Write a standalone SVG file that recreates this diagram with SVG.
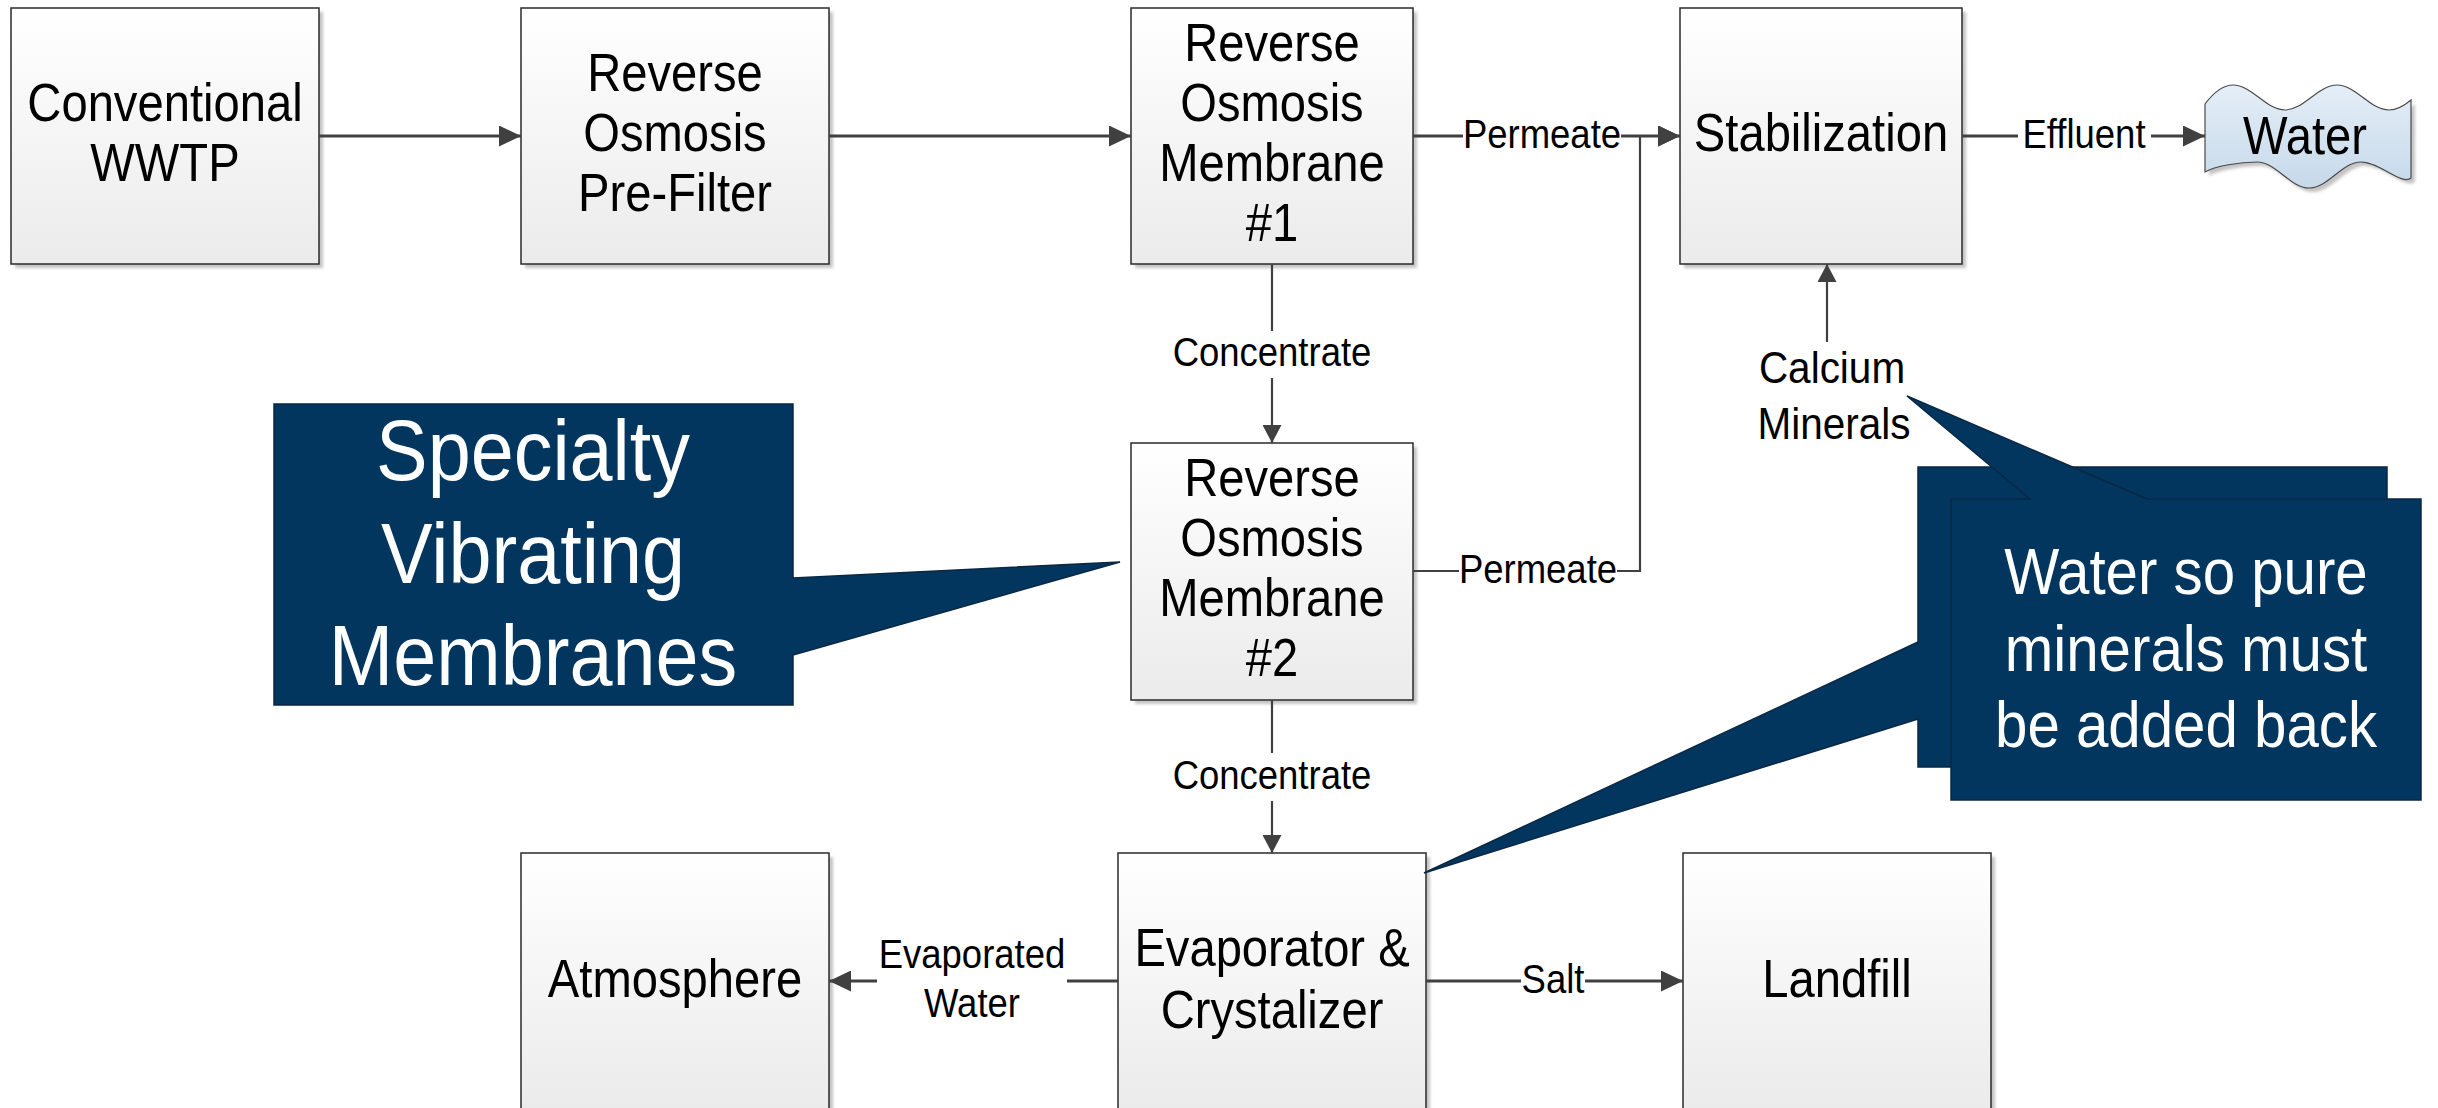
<svg xmlns="http://www.w3.org/2000/svg" width="2438" height="1108" viewBox="0 0 2438 1108">
  <style>
    text { font-family: "Liberation Sans", Arial, sans-serif; text-anchor: middle; transform-box: fill-box; transform-origin: center; }
    .nt { font-size: 53px; fill: #000; transform: scaleX(0.89); }
    .lt { font-size: 41px; fill: #000; transform: scaleX(0.89); }
    .lt.big { font-size: 45px; transform: scaleX(0.9); }
    .ct { font-size: 85px; fill: #fff; transform: scaleX(0.91); }
    .ct2 { font-size: 64px; fill: #fff; transform: scaleX(0.91); }
    .box { fill: url(#boxFill); stroke: #2b2b2b; stroke-width: 1.5; }
    .shadow { fill: #c4c4c4; filter: url(#soft); }
    .callout { fill: #03365f; stroke: #0a2744; stroke-width: 1.5; stroke-linejoin: miter; }
    .wire { fill: none; stroke: #404040; stroke-width: 3; }
    .wire.thin { stroke-width: 2.2; }
    .bg { fill: #fff; }
  </style>
  <defs>
    <linearGradient id="boxFill" x1="0" y1="0" x2="0" y2="1">
      <stop offset="0" stop-color="#ffffff"/>
      <stop offset="1" stop-color="#ebebeb"/>
    </linearGradient>
    <linearGradient id="waterFill" x1="0" y1="0" x2="0" y2="1">
      <stop offset="0" stop-color="#e4eef7"/>
      <stop offset="1" stop-color="#c6d9ea"/>
    </linearGradient>
    <filter id="soft" x="-5%" y="-5%" width="110%" height="110%">
      <feGaussianBlur stdDeviation="1.5"/>
    </filter>
    <marker id="ah" markerUnits="userSpaceOnUse" markerWidth="22" markerHeight="21" refX="22" refY="10.5" orient="auto">
      <path d="M0,0 L22,10.5 L0,21 z" fill="#404040"/>
    </marker>
    <marker id="ahs" markerUnits="userSpaceOnUse" markerWidth="18" markerHeight="19" refX="18" refY="9.5" orient="auto">
      <path d="M0,0 L18,9.5 L0,19 z" fill="#404040"/>
    </marker>
    <path id="waveShape" d="M2205,104 C2214,92 2223,85 2233,85 C2252,85 2266,110 2285,110 C2304,110 2318,85 2337,85 C2356,85 2370,110 2389,110 C2398,110 2405,105 2411,100 L2411,178 C2402,186 2380,162 2361,162 C2342,162 2328,188 2309,188 C2290,188 2276,162 2257,162 C2240,162 2215,166 2205,172 Z"/>
  </defs>

  <!-- process blocks -->
  <g id="wwtp">
    <rect class="shadow" x="15" y="12" width="308" height="256"/>
    <rect class="box" x="11" y="8" width="308" height="256"/>
    <text class="nt" x="165" y="121">Conventional</text>
    <text class="nt" x="165" y="181">WWTP</text>
  </g>
  <g id="prefilter">
    <rect class="shadow" x="525" y="12" width="308" height="256"/>
    <rect class="box" x="521" y="8" width="308" height="256"/>
    <text class="nt" x="675" y="91">Reverse</text>
    <text class="nt" x="675" y="151">Osmosis</text>
    <text class="nt" x="675" y="211">Pre-Filter</text>
  </g>
  <g id="membrane1">
    <rect class="shadow" x="1135" y="12" width="282" height="256"/>
    <rect class="box" x="1131" y="8" width="282" height="256"/>
    <text class="nt" x="1272" y="61">Reverse</text>
    <text class="nt" x="1272" y="121">Osmosis</text>
    <text class="nt" x="1272" y="181">Membrane</text>
    <text class="nt" x="1272" y="241">#1</text>
  </g>
  <g id="stabilization">
    <rect class="shadow" x="1684" y="12" width="282" height="256"/>
    <rect class="box" x="1680" y="8" width="282" height="256"/>
    <text class="nt" x="1821" y="151">Stabilization</text>
  </g>
  <g id="water">
    <use href="#waveShape" class="shadow" transform="translate(4,4)"/>
    <use href="#waveShape" fill="url(#waterFill)" stroke="#4a4a4a" stroke-width="1.2"/>
    <text class="nt" x="2305" y="154">Water</text>
  </g>
  <g id="membrane2">
    <rect class="shadow" x="1135" y="447" width="282" height="257"/>
    <rect class="box" x="1131" y="443" width="282" height="257"/>
    <text class="nt" x="1272" y="496">Reverse</text>
    <text class="nt" x="1272" y="556">Osmosis</text>
    <text class="nt" x="1272" y="616">Membrane</text>
    <text class="nt" x="1272" y="676">#2</text>
  </g>
  <g id="evaporator">
    <rect class="shadow" x="1122" y="857" width="308" height="257"/>
    <rect class="box" x="1118" y="853" width="308" height="257"/>
    <text class="nt" x="1272" y="966">Evaporator &amp;</text>
    <text class="nt" x="1272" y="1028">Crystalizer</text>
  </g>
  <g id="atmosphere">
    <rect class="shadow" x="525" y="857" width="308" height="257"/>
    <rect class="box" x="521" y="853" width="308" height="257"/>
    <text class="nt" x="675" y="997">Atmosphere</text>
  </g>
  <g id="landfill">
    <rect class="shadow" x="1687" y="857" width="308" height="257"/>
    <rect class="box" x="1683" y="853" width="308" height="257"/>
    <text class="nt" x="1837" y="997">Landfill</text>
  </g>

  <!-- flow connectors -->
  <g id="connectors">
    <path class="wire" d="M319,136 H521" marker-end="url(#ah)"/>
    <path class="wire" d="M829,136 H1131" marker-end="url(#ah)"/>
    <path class="wire" d="M1413,136 H1680" marker-end="url(#ah)"/>
    <path class="wire thin" d="M1413,571 H1640 V136 H1680" marker-end="url(#ah)"/>
    <path class="wire thin" d="M1272,264 V443" marker-end="url(#ahs)"/>
    <path class="wire thin" d="M1272,700 V853" marker-end="url(#ahs)"/>
    <path class="wire" d="M1962,136 H2205" marker-end="url(#ah)"/>
    <path class="wire" d="M1118,981 H829" marker-end="url(#ah)"/>
    <path class="wire" d="M1426,981 H1683" marker-end="url(#ah)"/>
    <path class="wire thin" d="M1827,342 V264" marker-end="url(#ahs)"/>

    <rect class="bg" x="1463" y="120" width="158" height="34"/>
    <text class="lt" x="1542" y="148">Permeate</text>
    <rect class="bg" x="1459" y="555" width="158" height="34"/>
    <text class="lt" x="1538" y="583">Permeate</text>
    <rect class="bg" x="1168" y="331" width="208" height="47"/>
    <text class="lt" x="1272" y="366">Concentrate</text>
    <rect class="bg" x="1168" y="753" width="208" height="48"/>
    <text class="lt" x="1272" y="789">Concentrate</text>
    <rect class="bg" x="2018" y="120" width="133" height="34"/>
    <text class="lt" x="2084" y="148">Effluent</text>
    <rect class="bg" x="877" y="930" width="190" height="96"/>
    <text class="lt" x="972" y="968">Evaporated</text>
    <text class="lt" x="972" y="1017">Water</text>
    <rect class="bg" x="1521" y="965" width="64" height="34"/>
    <text class="lt" x="1553" y="993">Salt</text>
    <text class="lt big" x="1832" y="383">Calcium</text>
    <text class="lt big" x="1834" y="439">Minerals</text>
  </g>

  <!-- annotation callouts -->
  <g id="callout-membranes">
    <polygon class="callout" points="274,404 793,404 793,578 1120,562 793,655 793,705 274,705"/>
    <text class="ct" x="533" y="480">Specialty</text>
    <text class="ct" x="533" y="583">Vibrating</text>
    <text class="ct" x="533" y="685">Membranes</text>
  </g>
  <g id="callout-evaporator">
    <polygon class="callout" points="1918,467 2387,467 2387,767 1918,767 1918,719 1424,873 1918,642"/>
  </g>
  <g id="callout-minerals">
    <polygon class="callout" points="1951,499 2030,499 1907,396 2147,499 2421,499 2421,800 1951,800"/>
    <text class="ct2" x="2186" y="594">Water so pure</text>
    <text class="ct2" x="2186" y="671">minerals must</text>
    <text class="ct2" x="2186" y="747">be added back</text>
  </g>
</svg>
